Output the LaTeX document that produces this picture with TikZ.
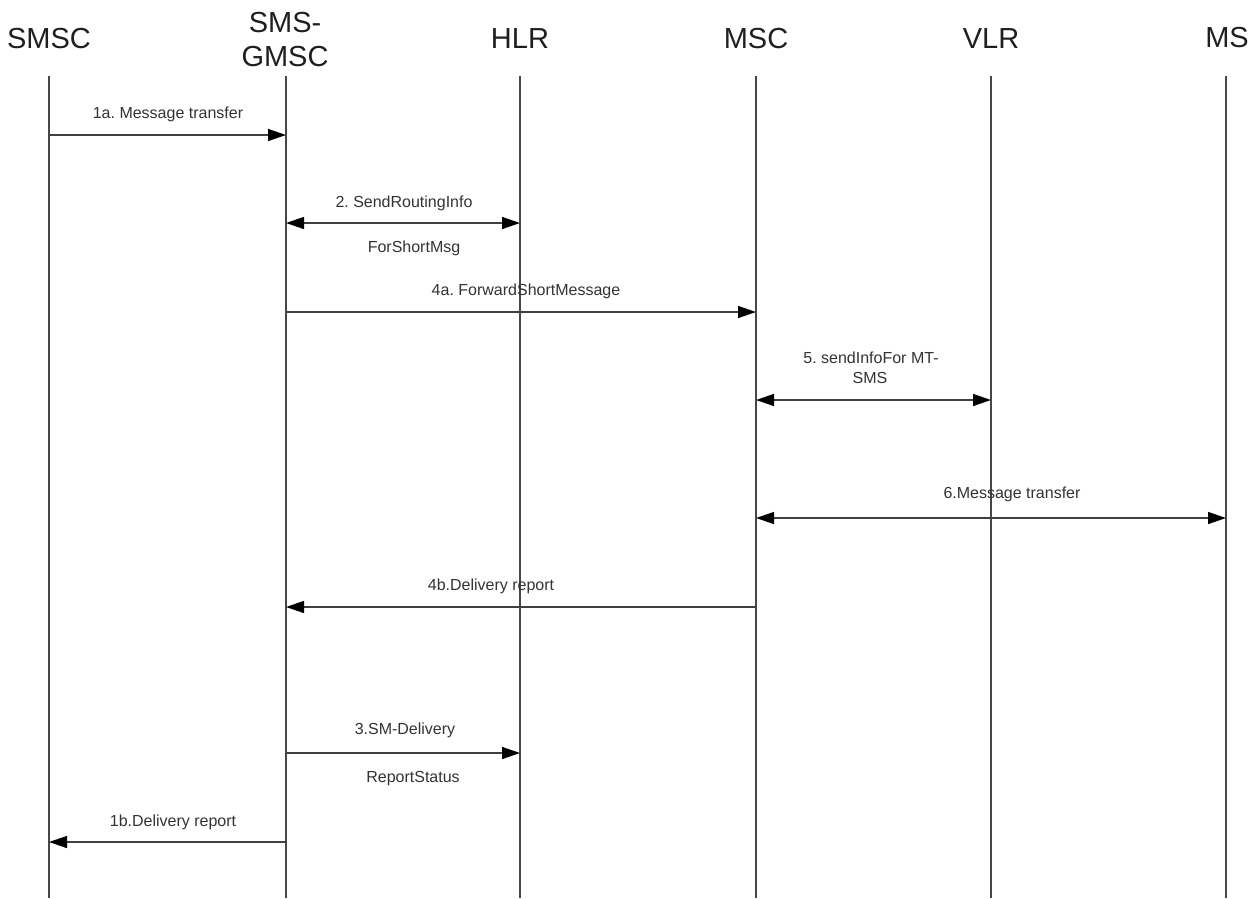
\documentclass[tikz,border=0pt]{standalone}
\usepackage{fontspec}
\setmainfont{Liberation Sans}
\usetikzlibrary{arrows.meta}
\frenchspacing
\begin{document}
\begin{tikzpicture}[x=1pt,y=-1pt,
  head/.style={font=\fontsize{29}{34}\selectfont, text=black!88, align=center, inner sep=0pt},
  lbl/.style={font=\fontsize{16}{20}\selectfont, text=black!80, inner sep=0pt, anchor=base},
  life/.style={draw=black!72, line width=1.3pt},
  tip/.tip={Triangle[length=18pt,width=12pt,color=black]},
  msg/.style={draw=black!75, line width=1.4pt, -tip},
  msgb/.style={draw=black!75, line width=1.4pt, tip-tip}]
\useasboundingbox (0,0) rectangle (1259,898);

% participants
\node[head] (hsmsc) at (49,39)   {SMSC};
\node[head] (hgmsc) at (285,39.5) {SMS-\\GMSC};
\node[head] (hhlr)  at (520,39)  {HLR};
\node[head] (hmsc)  at (756,39)  {MSC};
\node[head] (hvlr)  at (991,39)  {VLR};
\node[head] (hms)   at (1227,38) {MS};

% lifeline tops and bottoms
\foreach \n/\x in {smsc/49, gmsc/286, hlr/520, msc/756, vlr/991, ms/1226} {
  \coordinate (\n) at (\x,76);
  \coordinate (\n-end) at (\x,898);
  \draw[life] (\n) -- (\n-end);
}

% messages
\draw[msg]  (smsc |- 0,135) -- (gmsc |- 0,135);
\node[lbl] (l1a) at (168,118) {1a. Message transfer};

\draw[msgb] (gmsc |- 0,223) -- (hlr |- 0,223);
\node[lbl] (l2a) at (404,207) {2. SendRoutingInfo};
\node[lbl] (l2b) at (414,252) {ForShortMsg};

\draw[msg]  (gmsc |- 0,312) -- (msc |- 0,312);
\node[lbl] (l4a) at (526,295) {4a. ForwardShortMessage};

\draw[msgb] (msc |- 0,400) -- (vlr |- 0,400);
\node[lbl] (l5a) at (871,363) {5. sendInfoFor MT-};
\node[lbl] (l5b) at (870,383) {SMS};

\draw[msgb] (msc |- 0,518) -- (ms |- 0,518);
\node[lbl] (l6) at (1012,498.5) {6.Message transfer};

\draw[msg]  (msc |- 0,607) -- (gmsc |- 0,607);
\node[lbl] (l4b) at (491,590) {4b.Delivery report};

\draw[msg]  (gmsc |- 0,753) -- (hlr |- 0,753);
\node[lbl] (l3a) at (405,734) {3.SM-Delivery};
\node[lbl] (l3b) at (413,782.5) {ReportStatus};

\draw[msg]  (gmsc |- 0,842) -- (smsc |- 0,842);
\node[lbl] (l1b) at (173,826.5) {1b.Delivery report};
\end{tikzpicture}
\end{document}
